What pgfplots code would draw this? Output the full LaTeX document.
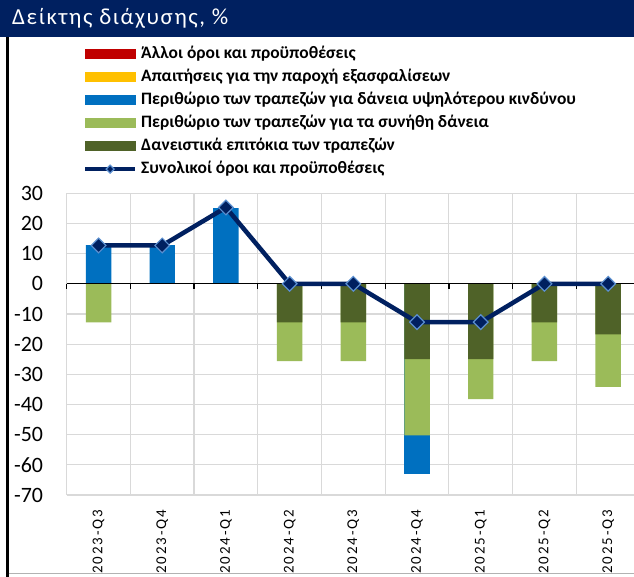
\documentclass[border=0pt]{standalone}
\usepackage{fontspec}
\setmainfont{Carlito}
\newfontfamily\xlabfont[LetterSpace=12]{Carlito}
\newfontfamily\titlefont[LetterSpace=7]{Carlito}
\usepackage{pgfplots}
\pgfplotsset{compat=1.18}
\definecolor{navy}{HTML}{002060}
\definecolor{cred}{HTML}{C00000}
\definecolor{cyel}{HTML}{FFC000}
\definecolor{cblue}{HTML}{0070C0}
\definecolor{cgreen}{HTML}{9BBB59}
\definecolor{colive}{HTML}{4F6228}
\definecolor{lblue}{HTML}{5B8FD0}
\definecolor{gridc}{HTML}{D9D9D9}
\begin{document}
\begin{tikzpicture}
\fill[navy] (0bp,539.7bp) rectangle (634bp,577bp);
\node[anchor=base west, inner sep=0pt, text=white, font=\titlefont\fontsize{23}{23}\selectfont] at (12bp,552bp) {Δείκτης διάχυσης, \%};
\draw[black, line width=2.5bp] (7.5bp,0bp) -- (7.5bp,539.7bp);
\begin{axis}[
  at={(66.7bp,82bp)}, anchor=south west, scale only axis,
  width=573.3bp, height=301.7bp,
  xmin=-0.5, xmax=8.5, ymin=-70, ymax=30,
  axis line style={draw=none},
  xtick={0,...,8},
  xticklabels={2023-Q3,2023-Q4,2024-Q1,2024-Q2,2024-Q3,2024-Q4,2025-Q1,2025-Q2,2025-Q3},
  minor xtick={-0.5,0.5,...,8.5},
  ytick={-70,-60,...,30},
  major tick length=0pt, minor tick length=0pt,
  xminorgrids=true, ymajorgrids=true, xmajorgrids=false,
  grid style={gridc, line width=1.2bp},
  minor grid style={gridc, line width=1.2bp},
  /pgf/number format/assume math mode=true,
  yticklabel style={font=\fontsize{22}{22}\selectfont, inner sep=0pt, xshift=-23.4bp},
  xticklabel style={font=\xlabfont\fontsize{15}{15}\selectfont, inner sep=0pt, yshift=-15bp, rotate=90, anchor=east},
  legend style={at={(rel axis cs:0,1)}, anchor=south west, xshift=16.3bp, yshift=16bp,
    draw=none, fill=none, inner sep=0pt, row sep=7bp, column sep=4bp,
    font=\fontsize{17.5}{17.5}\selectfont\bfseries,
    nodes={inner sep=0pt, text height=12.5bp, text depth=3.5bp}},
  legend cell align=left,
  clip=false,
]
\addlegendimage{legend image code/.code={\fill[cred] (0bp,-4.5bp) rectangle (50bp,4.5bp);}}
\addlegendentry{Άλλοι όροι και προϋποθέσεις}
\addlegendimage{legend image code/.code={\fill[cyel] (0bp,-4.5bp) rectangle (50bp,4.5bp);}}
\addlegendentry{Απαιτήσεις για την παροχή εξασφαλίσεων}
\addlegendimage{legend image code/.code={\fill[cblue] (0bp,-4.5bp) rectangle (50bp,4.5bp);}}
\addlegendentry{Περιθώριο των τραπεζών για δάνεια υψηλότερου κινδύνου}
\addlegendimage{legend image code/.code={\fill[cgreen] (0bp,-4.5bp) rectangle (50bp,4.5bp);}}
\addlegendentry{Περιθώριο των τραπεζών για τα συνήθη δάνεια}
\addlegendimage{legend image code/.code={\fill[colive] (0bp,-4.5bp) rectangle (50bp,4.5bp);}}
\addlegendentry{Δανειστικά επιτόκια των τραπεζών}
\addlegendimage{legend image code/.code={\draw[navy, line width=4bp] (0bp,0bp)--(50bp,0bp); \draw[fill=navy, draw=lblue, line width=1.2bp] (25bp,4bp)--(29bp,0bp)--(25bp,-4bp)--(21bp,0bp)--cycle;}}
\addlegendentry{Συνολικοί όροι και προϋποθέσεις}
% cumulative negative totals (olive + green + blue)
\addplot[ybar, bar width=0.4, bar shift=0pt, fill=cblue, draw=none, forget plot] coordinates {(5,-63.2)};
% cumulative olive + green
\addplot[ybar, bar width=0.4, bar shift=0pt, fill=cgreen, draw=none, forget plot] coordinates {(0,-12.8) (3,-25.6) (4,-25.6) (5,-50.2) (6,-38.2) (7,-25.6) (8,-34.2)};
% olive
\addplot[ybar, bar width=0.4, bar shift=0pt, fill=colive, draw=none, forget plot] coordinates {(3,-12.8) (4,-12.8) (5,-25) (6,-25) (7,-12.8) (8,-16.8)};
% blue positive
\addplot[ybar, bar width=0.4, bar shift=0pt, fill=cblue, draw=none, forget plot] coordinates {(0,12.8) (1,12.8) (2,25.1)};
\draw[black, line width=1.3bp] (axis cs:-0.5,0) -- (axis cs:8.5,0);
\pgfplotsinvokeforeach{-0.5,0.5,...,8.5}{\draw[black, line width=1.3bp] (axis cs:#1,0) -- ++(0bp,-5bp);}
\addplot[navy, line width=4.5bp, mark=square*, mark size=5.2bp, mark options={rotate=45, fill=navy, draw=lblue, line width=1.2bp, solid}, forget plot] coordinates {(0,12.7) (1,12.7) (2,25.3) (3,0) (4,0) (5,-12.7) (6,-12.7) (7,0) (8,0)};
\end{axis}
\fill[white] (8.75bp,0bp) rectangle (634bp,3bp);
\draw[gray!60, line width=1.5bp] (8.75bp,3.5bp) -- (634bp,3.5bp);
\pgfresetboundingbox
\path[use as bounding box] (0bp,0bp) rectangle (634bp,577bp);
\end{tikzpicture}
\end{document}
